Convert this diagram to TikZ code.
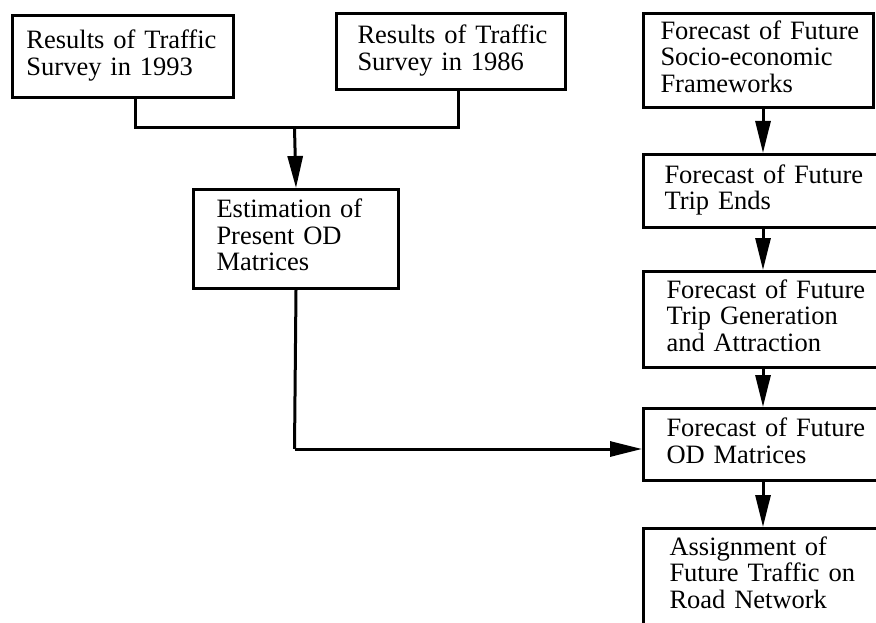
\documentclass[tikz,border=0pt]{standalone}
\usepackage{fontspec}
\setmainfont{Liberation Serif}
\usetikzlibrary{arrows.meta}
% keeps each given line of a box on one line
\newcommand\boxlines[1]{\begin{tabular}{@{}l@{}}#1\end{tabular}}
\begin{document}
\begin{tikzpicture}[x=1pt,y=-1pt,
  box/.style={draw, line width=3pt, rectangle, anchor=north west,
    align=left, inner ysep=0pt,
    font=\fontsize{26.5}{26.5}\selectfont},
  link/.style={line width=3pt},
  arrow/.style={line width=3pt, -{Triangle[length=32pt,width=15pt]}}]
\useasboundingbox (0,0) rectangle (876,623);
\clip (0,0) rectangle (876,623);
\fill[white] (0,0) rectangle (876,623);

% present-day branch
\node[box, inner xsep=14pt, text width=193pt, minimum height=82pt]
  (s93) at (11,14) {\boxlines{Results of Traffic\\Survey in 1993}};
\node[box, inner xsep=21pt, text width=187pt, minimum height=76pt]
  (s86) at (335,12) {\boxlines{Results of Traffic\\Survey in 1986}};
\node[box, inner xsep=23pt, text width=159pt, minimum height=99pt]
  (est) at (192,188) {\boxlines{Estimation of\\Present OD\\Matrices}};

% future forecasting column
\node[box, inner xsep=17pt, text width=196pt, minimum height=94pt]
  (socio) at (642,12) {\boxlines{Forecast of Future\\Socio-economic\\Frameworks}};
\node[box, inner xsep=21pt, text width=218pt, minimum height=73pt]
  (ends) at (642,153) {\boxlines{Forecast of Future\\Trip Ends}};
\node[box, inner xsep=23pt, text width=214pt, minimum height=96pt]
  (gen) at (642,270) {\boxlines{Forecast of Future\\Trip Generation\\and Attraction}};
\node[box, inner xsep=23pt, text width=214pt, minimum height=72pt]
  (od) at (642,407) {\boxlines{Forecast of Future\\OD Matrices}};
\node[box, inner xsep=26pt, inner ysep=8pt, text width=208pt, text depth=150pt]
  (assign) at (642,527) {\boxlines{Assignment of\\Future Traffic on\\Road Network}};

% routing points
\coordinate (jl) at (135,128);
\coordinate (jr) at (458,128);
\coordinate (jm) at (294.5,128);
\coordinate (bend) at (294.5,449);
\coordinate (col) at (763,0);

% connectors
\draw[link] (s93.south -| jl) -- (jl) -- (jr) -- (s86.south -| jr);
\draw[arrow] (jm) -- (est.north);
\draw[link] (est.south) -- (bend);
\draw[arrow] (bend) -- (od.west |- bend);
\draw[arrow] (socio.south -| col) -- (ends.north -| col);
\draw[arrow] (ends.south -| col) -- (gen.north -| col);
\draw[arrow] (gen.south -| col) -- (od.north -| col);
\draw[arrow] (od.south -| col) -- (assign.north -| col);
\end{tikzpicture}
\end{document}
